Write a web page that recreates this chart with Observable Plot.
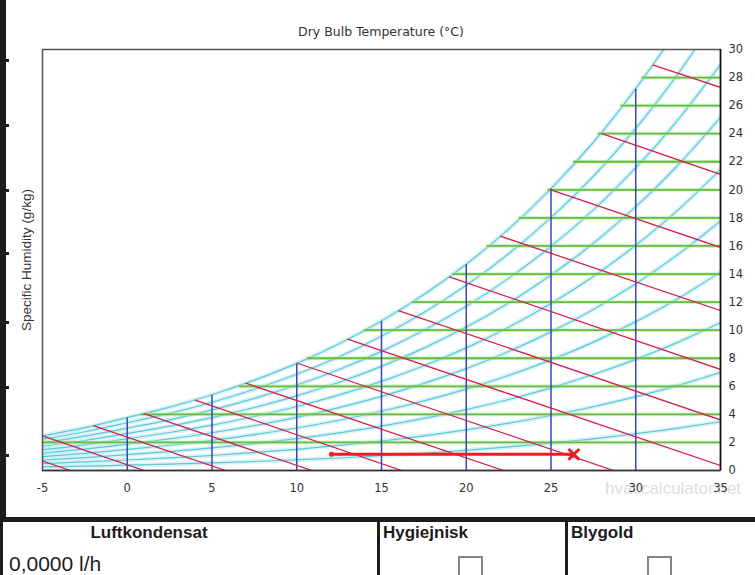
<!DOCTYPE html>
<html><head><meta charset="utf-8">
<script src="https://cdn.jsdelivr.net/npm/d3@7"></script>
<script src="https://cdn.jsdelivr.net/npm/@observablehq/plot@0.6"></script>
<style>
body{margin:0;background:#fff;}
#page{position:relative;width:755px;height:575px;overflow:hidden;background:#fff;font-family:"Liberation Sans",Arial,sans-serif;}
#chart{position:absolute;left:0;top:0;}
.wm{position:absolute;left:605px;top:479px;font-size:17px;color:#dedede;font-family:"Liberation Sans",Arial,sans-serif;white-space:nowrap;}
.title{position:absolute;left:271px;top:24px;width:220px;text-align:center;font:12.5px "DejaVu Sans",sans-serif;line-height:16px;color:#333;}
.ylabel{position:absolute;left:-73px;top:252px;width:200px;text-align:center;font-size:13.5px;line-height:16px;color:#333;transform:rotate(-90deg);white-space:nowrap;}
.blk{position:absolute;background:#1c1c1c;}
.hd{position:absolute;top:523px;font-weight:bold;font-size:17px;line-height:20px;color:#1c1c1c;white-space:nowrap;}
.val{position:absolute;left:9px;top:552px;font-size:21px;line-height:24px;color:#1c1c1c;white-space:nowrap;}
.cb{position:absolute;top:556px;width:25px;height:24px;box-sizing:border-box;border:2px solid #858585;background:#fff;}
</style></head>
<body><div id="page">
<div class="wm">hvaccalculator.net</div>
<div id="chart"></div>
<div class="title">Dry Bulb Temperature (°C)</div>
<div class="ylabel">Specific Humidity (g/kg)</div>
<div class="blk" style="left:0;top:0;width:6px;height:522px"></div>
<div class="blk" style="left:0;top:59px;width:9px;height:3px"></div>
<div class="blk" style="left:0;top:124px;width:9px;height:3px"></div>
<div class="blk" style="left:0;top:189px;width:9px;height:3px"></div>
<div class="blk" style="left:0;top:252px;width:9px;height:3px"></div>
<div class="blk" style="left:0;top:321px;width:9px;height:3px"></div>
<div class="blk" style="left:0;top:386px;width:9px;height:3px"></div>
<div class="blk" style="left:0;top:454px;width:9px;height:3px"></div>
<div class="blk" style="left:0;top:517px;width:755px;height:5px"></div>
<div class="blk" style="left:0;top:520px;width:3px;height:55px"></div>
<div class="blk" style="left:377px;top:520px;width:3px;height:55px"></div>
<div class="blk" style="left:565px;top:520px;width:3px;height:55px"></div>
<div class="hd" style="left:49px;width:200px;text-align:center">Luftkondensat</div>
<div class="hd" style="left:383px">Hygiejnisk</div>
<div class="hd" style="left:571px">Blygold</div>
<div class="val">0,0000 l/h</div>
<div class="cb" style="left:458px"></div>
<div class="cb" style="left:647px"></div>
</div>
<script>
// x ticks (dry bulb °C) and y ticks (g/kg)
const xTicks = [-5, 0, 5, 10, 15, 20, 25, 30, 35];
const yTicks = [0, 2, 4, 6, 8, 10, 12, 14, 16, 18, 20, 22, 24, 26, 28, 30];

// relative humidity curves (10%..100%), specific humidity g/kg at these temperatures
const rhTemps = [-5,-2.5,0,2.5,5,7.5,10,12.5,15,17.5,20,22.5,25,27.5,30,32.5,35];
const rhLevels = [10,20,30,40,50,60,70,80,90,100];
const rh10  = [0.25,0.31,0.38,0.45,0.54,0.64,0.76,0.89,1.05,1.23,1.44,1.68,1.95,2.26,2.62,3.02,3.48];
const rh20  = [0.49,0.61,0.75,0.90,1.07,1.28,1.51,1.79,2.10,2.47,2.89,3.37,3.92,4.54,5.26,6.07,6.99];
const rh30  = [0.74,0.92,1.13,1.35,1.61,1.92,2.27,2.68,3.16,3.71,4.34,5.06,5.89,6.84,7.92,9.15,10.54];
const rh40  = [0.99,1.22,1.50,1.80,2.15,2.56,3.03,3.58,4.22,4.96,5.80,6.77,7.88,9.15,10.61,12.26,14.14];
const rh50  = [1.23,1.53,1.88,2.25,2.69,3.20,3.79,4.48,5.28,6.21,7.26,8.48,9.88,11.48,13.31,15.40,17.77];
const rh60  = [1.48,1.83,2.26,2.71,3.23,3.85,4.56,5.39,6.35,7.46,8.74,10.21,11.90,13.83,16.05,18.57,21.45];
const rh70  = [1.73,2.14,2.64,3.16,3.77,4.49,5.32,6.29,7.42,8.72,10.22,11.94,13.93,16.19,18.80,21.77,25.17];
const rh80  = [1.98,2.45,3.02,3.61,4.32,5.14,6.09,7.20,8.49,9.99,11.70,13.69,15.97,18.57,21.58,25.01,28.93];
const rh90  = [2.23,2.76,3.40,4.07,4.86,5.79,6.86,8.11,9.57,11.26,13.20,15.44,18.02,20.97,24.38,28.28,32.74];
const rh100 = [2.47,3.06,3.77,4.52,5.40,6.44,7.63,9.03,10.65,12.54,14.70,17.20,20.09,23.39,27.21,31.58,36.59];

// constant humidity lines (green): level and dew point where they start
const humidityLevels = [2,4,6,8,10,12,14,16,18,20,22,24,26,28];
const dewPoints = [-7.7,0.8,6.6,10.6,13.95,16.8,19.2,21.2,23.1,24.8,26.3,27.75,29.1,30.35];

// dry bulb lines (blue): temperature and saturation top
const dryBulbTemps = [0,5,10,15,20,25,30];
const dryBulbTops = [3.77,5.40,7.63,10.65,14.70,20.09,27.21];

// wet bulb lines (red): start on saturation, end
const wetBulbTemps  = [-8,-5,-2,1,4,7,10,13,16,19,22,25,28,31];
const wetBulbStartW = [1.91,2.47,3.19,4.05,5.02,6.22,7.66,9.36,11.4,13.8,16.7,20.0,24.0,28.9];
const wetBulbEndT   = [-3.35,1.0,5.8,10.9,16.2,22.2,28.7,35,35,35,35,35,35,35];
const wetBulbEndW   = [0,0,0,0,0,0,0,0.35,3.6,7.2,11.4,15.9,21.1,27.3];

// process (heating) line
const processT = [12.05, 26.35];
const processW = [1.15, 1.15];

const rhSeries = [rh10,rh20,rh30,rh40,rh50,rh60,rh70,rh80,rh90,rh100];
const rhRows = rhLevels.flatMap((rh, i) => rhTemps.map((t, j) => ({rh, t, w: rhSeries[i][j]})));
const greenRows = humidityLevels.map((w, i) => ({w, t1: dewPoints[i], t2: 35}));
const blueRows = dryBulbTemps.map((t, i) => ({t, top: dryBulbTops[i]}));
const redRows = wetBulbTemps.map((t, i) => ({t1: t, w1: wetBulbStartW[i], t2: wetBulbEndT[i], w2: wetBulbEndW[i]}));
const procRows = processT.map((t, i) => ({t, w: processW[i]}));

const chart = Plot.plot({
  width: 755, height: 510,
  marginLeft: 42, marginRight: 35, marginTop: 49, marginBottom: 40,
  x: {domain: [-5, 35]},
  y: {domain: [0, 30]},
  style: {fontFamily: "'DejaVu Sans', sans-serif", fontSize: "11.5px", color: "#333", background: "transparent", overflow: "visible"},
  marks: [
    Plot.line(rhRows, {x: "t", y: "w", z: "rh", curve: "natural", stroke: "#b4e8ef", strokeWidth: 4.5, strokeOpacity: 0.5, clip: true}),
    Plot.line(rhRows, {x: "t", y: "w", z: "rh", curve: "natural", stroke: "#5cc8d8", strokeWidth: 1.2, clip: true}),
    Plot.link(greenRows, {x1: "t1", x2: "t2", y1: "w", y2: "w", stroke: "#bfe6ae", strokeWidth: 4, strokeOpacity: 0.55, clip: true}),
    Plot.link(greenRows, {x1: "t1", x2: "t2", y1: "w", y2: "w", stroke: "#60bf3e", strokeWidth: 1.8, clip: true}),
    Plot.link(blueRows, {x1: "t", x2: "t", y1: 0, y2: "top", stroke: "#3645b8", strokeWidth: 1.5, clip: true}),
    Plot.link(redRows, {x1: "t1", y1: "w1", x2: "t2", y2: "w2", stroke: "#d4204c", strokeWidth: 1.3, clip: true}),
    Plot.line(procRows, {x: "t", y: "w", stroke: "#ee1c22", strokeWidth: 3}),
    Plot.dot(procRows.slice(0, 1), {x: "t", y: "w", r: 2.5, fill: "#ee1c22"}),
    Plot.dot(procRows.slice(1), {x: "t", y: "w", r: 5, symbol: "times", stroke: "#ee1c22", strokeWidth: 3}),
    Plot.frame({stroke: "#555", strokeWidth: 1.5}),
    Plot.ruleX([35], {stroke: "#111", strokeWidth: 1.5}),
    Plot.ruleY([0], {stroke: "#333", strokeWidth: 1.5}),
    Plot.axisX({ticks: xTicks, tickSize: 0, tickPadding: 13, label: null, tickFormat: d => `${d}`}),
    Plot.axisY({anchor: "right", ticks: yTicks, tickSize: 0, tickPadding: 8, label: null, tickFormat: d => `${d}`})
  ]
});
document.getElementById("chart").appendChild(chart);
</script>
</body></html>
